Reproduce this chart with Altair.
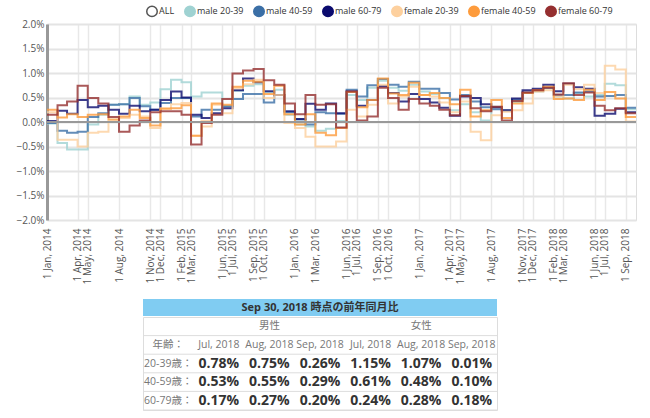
import altair as alt
import pandas as pd

FONT = "Open Sans, Noto Sans CJK JP, sans-serif"

# ---------------- data ----------------
start_month = "2014-01-01"
series_names = ["male 20-39", "male 40-59", "male 60-79",
                "female 20-39", "female 40-59", "female 60-79"]
legend_names = ["ALL"] + series_names
fill_colors = ["#ffffff", "#9fd2d2", "#3b6fa6", "#0b0b6e", "#fdd09e", "#fd9b3c", "#952f30"]
stroke_colors = ["#555555", "#9fd2d2", "#3b6fa6", "#0b0b6e", "#fdd09e", "#fd9b3c", "#952f30"]

male_20_39 = [-0.03, -0.43, -0.56, -0.56, -0.05, 0.15, 0.35, 0.36, 0.52, 0.35, 0.40, 0.67,
              0.86, 0.81, 0.52, 0.60, 0.60, 0.32, 0.64, 0.74, 0.77, 0.61, 0.66, 0.15,
              -0.05, -0.09, -0.18, -0.14, 0.02, 0.55, 0.45, 0.70, 0.84, 0.70, 0.64, 0.76,
              0.62, 0.57, 0.49, 0.24, 0.36, 0.20, 0.03, 0.31, 0.24, 0.41, 0.59, 0.62,
              0.69, 0.52, 0.48, 0.59, 0.52, 0.55, 0.78, 0.75, 0.26]
male_40_59 = [-0.02, -0.18, -0.22, -0.20, 0.10, 0.18, 0.35, 0.36, 0.49, 0.32, 0.25, 0.39,
              0.49, 0.49, 0.11, 0.25, 0.25, 0.32, 0.47, 0.57, 0.57, 0.40, 0.55, 0.20,
              0.05, -0.05, 0.20, 0.18, 0.17, 0.66, 0.52, 0.75, 0.88, 0.76, 0.72, 0.82,
              0.68, 0.68, 0.59, 0.46, 0.55, 0.42, 0.30, 0.26, 0.23, 0.46, 0.60, 0.65,
              0.70, 0.55, 0.55, 0.60, 0.62, 0.52, 0.53, 0.55, 0.29]
male_60_79 = [0.02, 0.23, 0.17, 0.45, 0.30, 0.33, 0.25, 0.17, 0.33, 0.22, 0.25, 0.45,
              0.62, 0.50, 0.15, 0.08, 0.18, 0.28, 0.65, 0.89, 0.81, 0.63, 0.55, 0.22,
              0.06, 0.37, 0.25, 0.38, 0.18, 0.62, 0.33, 0.45, 0.73, 0.59, 0.42, 0.57,
              0.47, 0.40, 0.29, 0.13, 0.52, 0.49, 0.36, 0.30, 0.24, 0.48, 0.65, 0.68,
              0.76, 0.63, 0.78, 0.71, 0.68, 0.13, 0.17, 0.27, 0.20]
female_20_39 = [0.20, -0.36, -0.36, -0.50, -0.22, -0.20, 0.01, 0.08, 0.15, 0.11, -0.12, 0.28,
                0.36, 0.39, -0.28, -0.09, 0.35, 0.18, 0.69, 0.77, 0.86, 0.49, 0.55, -0.02,
                -0.12, -0.30, -0.50, -0.50, -0.40, 0.25, 0.11, 0.35, 0.76, 0.38, 0.52, 0.72,
                0.55, 0.52, 0.40, 0.20, 0.42, -0.20, -0.37, 0.14, 0.21, 0.24, 0.38, 0.62,
                0.65, 0.52, 0.76, 0.67, 0.76, 0.59, 1.15, 1.07, 0.01]
female_40_59 = [0.25, 0.09, 0.16, 0.10, 0.15, 0.16, 0.05, 0.11, 0.25, 0.08, -0.07, 0.27,
                0.28, 0.34, -0.28, 0.01, 0.38, 0.35, 0.72, 0.84, 0.82, 0.57, 0.74, 0.16,
                -0.05, 0.16, -0.22, -0.27, -0.12, 0.61, 0.30, 0.45, 0.89, 0.58, 0.55, 0.80,
                0.55, 0.59, 0.49, 0.36, 0.66, 0.11, 0.24, 0.45, 0.08, 0.38, 0.59, 0.65,
                0.72, 0.47, 0.48, 0.45, 0.66, 0.45, 0.61, 0.48, 0.10]
female_60_79 = [0.15, 0.34, 0.42, 0.74, 0.49, 0.38, 0.10, -0.20, -0.07, 0.03, 0.20, 0.22,
                0.22, 0.15, -0.46, -0.02, 0.15, 0.47, 0.99, 1.05, 1.08, 0.85, 0.76, 0.38,
                0.16, 0.55, 0.35, 0.36, -0.11, 0.62, 0.03, 0.11, 0.70, 0.49, 0.25, 0.47,
                0.38, 0.33, 0.25, 0.14, 0.53, 0.28, 0.22, 0.31, 0.03, 0.43, 0.60, 0.65,
                0.70, 0.56, 0.79, 0.55, 0.60, 0.33, 0.24, 0.28, 0.18]

tick_dates = ["2014-01-01", "2014-04-01", "2014-05-01", "2014-08-01", "2014-11-01", "2014-12-01",
              "2015-02-01", "2015-03-01", "2015-06-01", "2015-07-01", "2015-09-01", "2015-10-01",
              "2016-01-01", "2016-03-01", "2016-06-01", "2016-07-01", "2016-09-01", "2016-10-01",
              "2017-01-01", "2017-04-01", "2017-05-01", "2017-08-01", "2017-11-01", "2017-12-01",
              "2018-02-01", "2018-03-01", "2018-06-01", "2018-07-01", "2018-09-01"]
y_ticks = [-2.0, -1.5, -1.0, -0.5, 0.0, 0.5, 1.0, 1.5, 2.0]

table_title = "Sep 30, 2018 時点の前年同月比"
gender_labels = ["男性", "女性"]
age_header = "年齢："
age_labels = ["20-39歳：", "40-59歳：", "60-79歳："]

# ---------------- build tables ----------------
series_values = [male_20_39, male_40_59, male_60_79, female_20_39, female_40_59, female_60_79]
months = pd.date_range(start_month, periods=len(male_20_39), freq="MS")
end_month = months[-1] + pd.offsets.MonthBegin(1)

rows = []
for name, vals in zip(series_names, series_values):
    for d, v in zip(months, vals):
        rows.append({"date": d.strftime("%Y-%m-%d"), "series": name, "value": v})
    # close the last step at the end of the final month
    rows.append({"date": end_month.strftime("%Y-%m-%d"), "series": name, "value": vals[-1]})
df = pd.DataFrame(rows)
df["zero"] = 0.0


def dt(s):
    t = pd.Timestamp(s)
    return alt.DateTime(year=t.year, month=t.month, date=t.day, utc=True)


x_domain = [dt(start_month), dt(end_month)]
x_values = [dt(s) for s in tick_dates]

legend = alt.Legend(
    orient="none", legendX=99, legendY=-19, direction="horizontal", columns=7,
    title=None, symbolType="circle", symbolSize=110, labelFontSize=9,
    labelColor="#333", labelFont=FONT, columnPadding=6, labelOffset=1,
    symbolStrokeWidth=1.5, symbolOpacity=1,
)

x_axis = alt.Axis(values=x_values, format="%-d %b, %Y", labelAngle=270, grid=True,
                  gridColor="#e8e8e8", gridWidth=1.5, ticks=False, domain=False,
                  labelPadding=8, labelFontSize=10, labelColor="#555", labelFont=FONT,
                  labelFlush=False, labelOverlap=False, title=None)
x_scale = alt.Scale(type="utc", domain=x_domain)
y_axis = alt.Axis(values=y_ticks, labelExpr="format(datum.value, '.1f') + '%'",
                  grid=True, gridColor="#e4e4e4", gridWidth=2, ticks=False,
                  domainColor="#999999", domainWidth=3, labelPadding=3,
                  labelFontSize=10, labelColor="#555", labelFont=FONT, title=None)
y_scale = alt.Scale(domain=[-2, 2], nice=False, zero=False)

stroke_enc = alt.Stroke("series:N", scale=alt.Scale(domain=legend_names, range=stroke_colors),
                        legend=legend)
fill_enc = alt.Fill("series:N", scale=alt.Scale(domain=legend_names, range=fill_colors),
                    legend=legend)

lines = alt.Chart(df).mark_line(interpolate="step-after", strokeWidth=2, opacity=0.8).encode(
    x=alt.X("date:T", scale=x_scale, axis=x_axis),
    y=alt.Y("value:Q", scale=y_scale, axis=y_axis),
    stroke=stroke_enc, detail="series:N",
)
zero = alt.Chart(df).mark_rule(color="#999999", strokeWidth=2).encode(
    y=alt.Y("zero:Q", scale=y_scale, axis=y_axis)
)
legend_pts = alt.Chart(df).mark_point(size=0, filled=True, opacity=1).encode(
    x=alt.X("date:T", scale=x_scale, axis=x_axis),
    y=alt.Y("value:Q", scale=y_scale, axis=y_axis),
    fill=fill_enc, stroke=stroke_enc,
)
line_chart = alt.layer(lines, zero, legend_pts).properties(width=589, height=196)

# ---------------- table ----------------
row_order = ["g", "h", "a0", "a1", "a2"]
col_labels = [m.strftime("%b, %Y") for m in months[-3:]]
cells = [
    {"row": "g", "col": 2, "text": gender_labels[0], "kind": "label"},
    {"row": "g", "col": 5, "text": gender_labels[1], "kind": "label"},
    {"row": "h", "col": 0, "text": age_header, "kind": "label"},
]
for j, lab in enumerate(col_labels * 2):
    cells.append({"row": "h", "col": j + 1, "text": lab, "kind": "label"})
for a, lab in enumerate(age_labels):
    cells.append({"row": f"a{a}", "col": 0, "text": lab, "kind": "label"})
    vals6 = series_values[a][-3:] + series_values[a + 3][-3:]
    for j, v in enumerate(vals6):
        cells.append({"row": f"a{a}", "col": j + 1, "text": f"{v:.2f}%", "kind": "value"})
cells_df = pd.DataFrame(cells)

tx = alt.X("col:O", scale=alt.Scale(domain=list(range(7)), paddingInner=0, paddingOuter=0), axis=None)
ty_scale = alt.Scale(domain=row_order, paddingInner=0, paddingOuter=0)
ty = alt.Y("row:O", scale=ty_scale, axis=None)

base = alt.Chart(cells_df).encode(x=tx, y=ty, text="text:N")
labels = base.transform_filter("datum.kind == 'label'").mark_text(
    font=FONT, fontSize=10.5, color="#777777")
values = base.transform_filter("datum.kind == 'value'").mark_text(
    font=FONT, fontSize=14, fontWeight="bold", color="#333333")
seps = alt.Chart(pd.DataFrame({"row": row_order})).mark_rule(color="#dddddd", strokeWidth=1).encode(
    y=alt.Y("row:O", scale=ty_scale, axis=None, bandPosition=1)
)
table = alt.layer(seps, labels, values).properties(width=354, height=93)

header = alt.Chart(pd.DataFrame({"t": [table_title]})).mark_text(
    font=FONT, fontSize=11, fontWeight="bold", color="#333333"
).encode(text="t:N").properties(
    width=354, height=17, view=alt.ViewBackground(fill="#80ccf2", stroke=None)
)

# empty spacer view that indents the table under the plot
spacer = alt.Chart(pd.DataFrame({"s": [""]})).mark_text().encode(text="s:N").properties(
    width=95, height=17
)

table_block = alt.hconcat(spacer, alt.vconcat(header, table, spacing=0), spacing=0)

chart = alt.vconcat(line_chart, table_block, spacing=14).properties(
    padding={"left": 15, "top": 5, "right": 5, "bottom": 5}
).configure_view(stroke=None).configure(background="#ffffff")

chart.save("out.html", embed_options={"renderer": "svg", "actions": False})
